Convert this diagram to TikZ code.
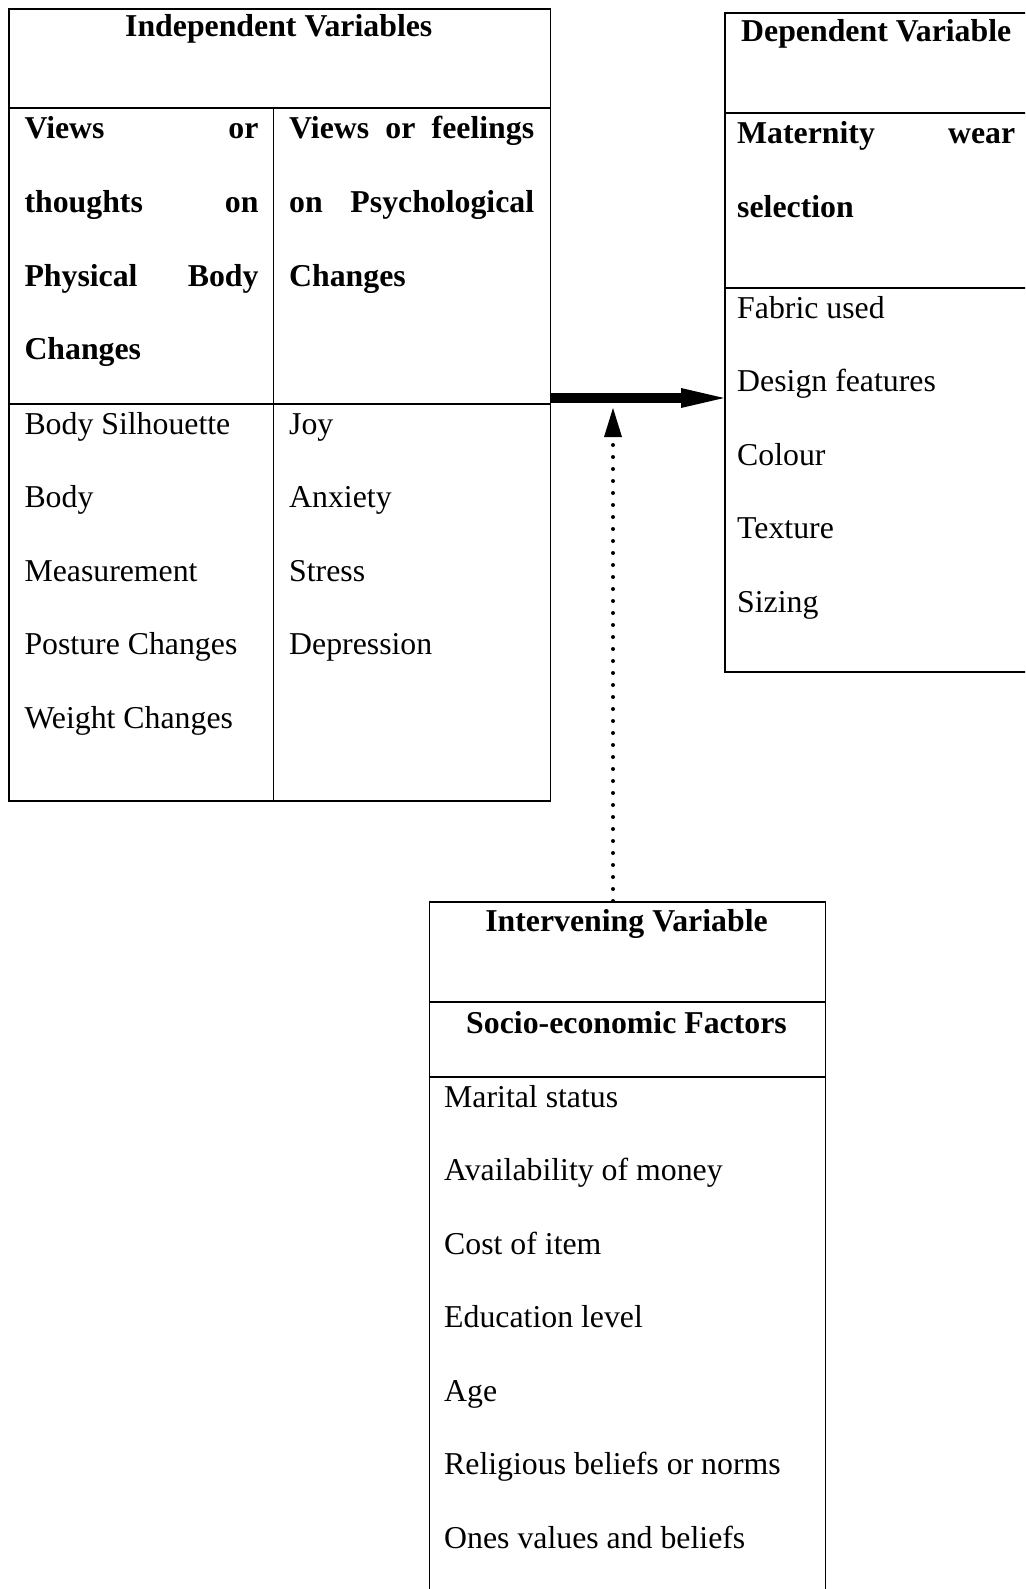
\documentclass[tikz,border=0pt]{standalone}
\usepackage{fontspec}
\setmainfont{Liberation Serif}
\usetikzlibrary{arrows.meta}
\begin{document}
\begin{tikzpicture}[x=1pt,y=-1pt,
  box/.style={draw, line width=1.9pt, rectangle, inner sep=0pt, anchor=north west},
  rule/.style={line width=1.9pt},
  txt/.style={anchor=base west, inner sep=0pt, font=\fontsize{31.8}{38}\selectfont},
  btxt/.style={anchor=base west, inner sep=0pt, font=\fontsize{31.8}{38}\selectfont\bfseries},
  ctitle/.style={anchor=base, inner sep=0pt, font=\fontsize{31.8}{38}\selectfont\bfseries},
  heavyarrow/.style={line width=10pt, -{Triangle[length=43pt,width=20pt,line width=0pt]}},
  dotarrow/.style={line width=4pt, line cap=round, dash pattern=on 0pt off 12pt,
     -{Triangle[length=29pt,width=18pt,line width=0pt]}},
]
\clip (0,0) rectangle (1025,1589);
\fill[white] (0,0) rectangle (1025,1589);

% ---------- Independent variables box ----------
\node[box, minimum width=541.5pt, minimum height=792pt] (indep) at (8,8) {};
\draw[rule] (8,108) -- (549.5,108);
\draw[rule] (8,404) -- (549.5,404);
\draw[rule] (273.5,108) -- (273.5,800);

\node[ctitle] (ivtitle) at (278.75,37) {Independent Variables};

\node[btxt] (l1) at (24.3,139)   {\makebox[234pt][s]{Views\hfill or}};
\node[btxt] (l2) at (24.3,212.5) {\makebox[234pt][s]{thoughts\hfill on}};
\node[btxt] (l3) at (24.3,286)   {\makebox[234pt][s]{Physical\hfill Body}};
\node[btxt] (l4) at (24.3,359.5) {Changes};

\node[btxt] (r1) at (289,139)   {\makebox[245pt][s]{Views\hfill or\hfill feelings}};
\node[btxt] (r2) at (289,212.5) {\makebox[245pt][s]{on\hfill Psychological}};
\node[btxt] (r3) at (289,286)   {Changes};

\node[txt] (b1) at (24.3,434)   {Body Silhouette};
\node[txt] (b2) at (24.3,507.5) {Body};
\node[txt] (b3) at (24.3,581)   {Measurement};
\node[txt] (b4) at (24.3,654.5) {Posture Changes};
\node[txt] (b5) at (24.3,728)   {Weight Changes};

\node[txt] (p1) at (289,434)   {Joy};
\node[txt] (p2) at (289,507.5) {Anxiety};
\node[txt] (p3) at (289,581)   {Stress};
\node[txt] (p4) at (289,654.5) {Depression};

% ---------- Dependent variable box ----------
\node[box, minimum width=306pt, minimum height=659pt] (dep) at (724,12) {};
\draw[rule] (724,113) -- (1030,113);
\draw[rule] (724,288) -- (1030,288);

\node[btxt] (dvtitle) at (741,42) {Dependent Variable};
\node[btxt] (m1) at (737,144)   {\makebox[278pt][s]{Maternity\hfill wear}};
\node[btxt] (m2) at (737,217.5) {selection};

\node[txt] (d1) at (737,318)   {Fabric used};
\node[txt] (d2) at (737,391.5) {Design features};
\node[txt] (d3) at (737,465)   {Colour};
\node[txt] (d4) at (737,538.5) {Texture};
\node[txt] (d5) at (737,612)   {Sizing};

% ---------- Intervening variable box ----------
\node[box, minimum width=396pt, minimum height=720pt] (interv) at (428.5,901) {};
\draw[rule] (428.5,1002) -- (824.5,1002);
\draw[rule] (428.5,1077) -- (824.5,1077);

\node[ctitle] (ntitle) at (626.5,931) {Intervening Variable};
\node[ctitle] (nsub) at (626.5,1033) {Socio-economic Factors};

\node[txt] (n1) at (444,1107)   {Marital status};
\node[txt] (n2) at (444,1180.5) {Availability of money};
\node[txt] (n3) at (444,1254)   {Cost of item};
\node[txt] (n4) at (444,1327.5) {Education level};
\node[txt] (n5) at (444,1401)   {Age};
\node[txt] (n6) at (444,1474.5) {Religious beliefs or norms};
\node[txt] (n7) at (444,1548)   {Ones values and beliefs};

% ---------- Connectors ----------
\coordinate (ay) at (0,398);
\draw[heavyarrow] (indep.east |- ay) -- (dep.west |- ay);

\coordinate (dtip) at (613,408);
\draw[dotarrow] (interv.north -| dtip) -- (dtip);
\end{tikzpicture}
\end{document}
